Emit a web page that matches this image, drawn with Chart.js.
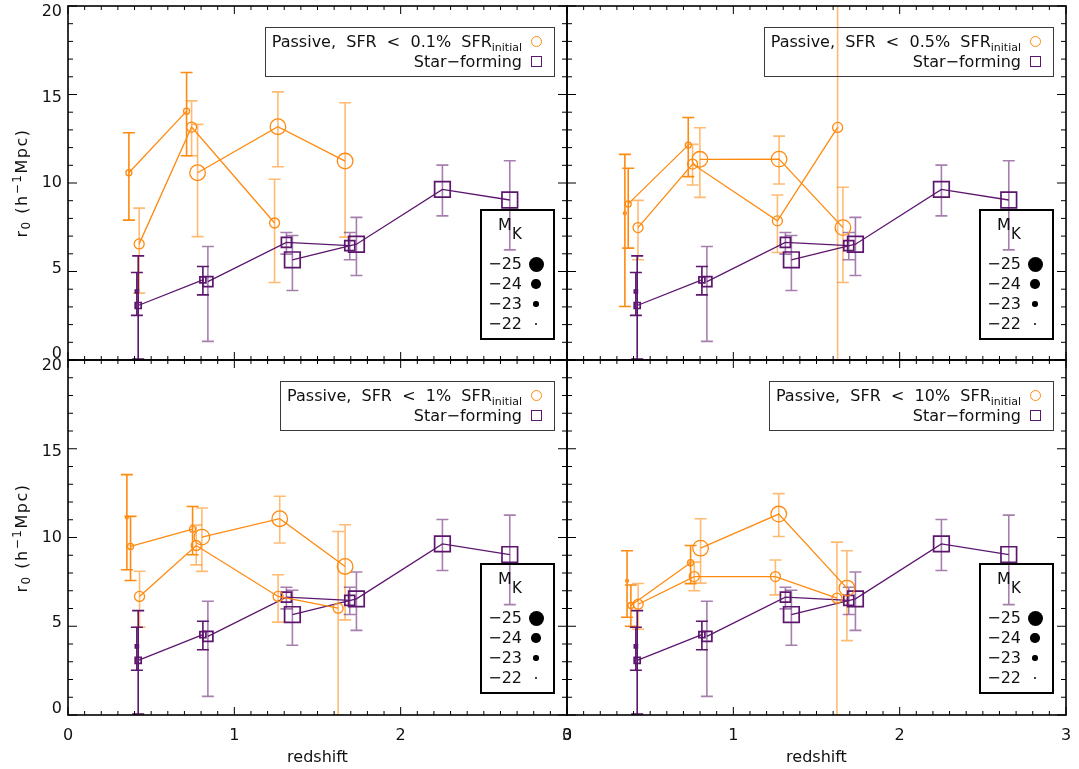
<!DOCTYPE html>
<html>
<head>
<meta charset="utf-8">
<script src="https://cdn.jsdelivr.net/npm/chart.js@4.4.1/dist/chart.umd.min.js"></script>
<style>
html,body{margin:0;padding:0;background:#fff;}
#wrap{position:relative;width:1079px;height:769px;overflow:hidden;font-family:"DejaVu Sans",sans-serif;color:#111;}
canvas{position:absolute;left:0;top:0;}
.leg{position:absolute;box-sizing:border-box;height:50px;border:1.5px solid #3a3a3a;padding:4px 12px 0 6px;font-size:16px;}
.leg .row{height:20px;line-height:20px;text-align:right;white-space:pre;}
.leg sub{font-size:11px;vertical-align:-4px;line-height:0;}
.sym{display:inline-block;box-sizing:border-box;vertical-align:middle;margin-left:9px;position:relative;top:-1px;}
.circ{width:11px;height:11px;border:1.3px solid rgb(255,138,16);border-radius:50%;}
.sq{width:11px;height:11px;border:1.6px solid rgb(92,22,110);}
.mk{position:absolute;box-sizing:border-box;width:75px;height:131px;border:2px solid #000;font-size:16px;}
.mk .t{position:absolute;white-space:pre;line-height:20px;}
.mk .dot{position:absolute;background:#000;border-radius:50%;}
.ytitle{position:absolute;width:200px;height:20px;line-height:20px;text-align:center;font-size:16px;letter-spacing:1.5px;white-space:pre;transform:rotate(-90deg);transform-origin:50% 50%;}
.ytitle sub{font-size:12px;vertical-align:-3px;line-height:0;}
.ytitle sup{font-size:12px;vertical-align:6px;line-height:0;}
</style>
</head>
<body>
<div id="wrap">
<canvas id="c0" width="1079" height="769"></canvas>
<canvas id="c1" width="1079" height="769"></canvas>
<canvas id="c2" width="1079" height="769"></canvas>
<canvas id="c3" width="1079" height="769"></canvas>
</div>
<script>
// ---------- data ----------
const xTickValues = [0, 1, 2, 3];
const yTickValues = [0, 5, 10, 15, 20];
const thresholds = ['0.1%', '0.5%', '1%', '10%'];
const magBins = [-22, -23, -24, -25];
const magLabels = ['\u221225', '\u221224', '\u221223', '\u221222'];

// rows: [redshift, r0, errLow, errHigh]
// Star-forming sample (same in every panel)
const sf_m22 = [[0.414, 3.87, 2.52, 4.94]];
const sf_m23 = [[0.422, 3.08, 0.06, 5.88], [0.811, 4.53, 3.68, 5.28]];
const sf_m24 = [[0.841, 4.43, 1.05, 6.41], [1.313, 6.64, 5.98, 7.20], [1.694, 6.46, 5.66, 7.20]];
const sf_m25 = [[1.349, 5.66, 3.93, 7.03], [1.734, 6.54, 4.77, 8.06], [2.251, 9.64, 8.14, 11.01], [2.656, 9.04, 6.22, 11.26]];

// Passive, SFR < 0.1%
const p01_m23 = [[0.366, 10.58, 7.90, 12.84], [0.713, 14.06, 11.54, 16.24]];
const p01_m24 = [[0.428, 6.56, 3.78, 8.58], [0.743, 13.16, 11.54, 14.64], [1.242, 7.74, 4.38, 10.21]];
const p01_m25 = [[0.779, 10.58, 6.97, 13.31], [1.262, 13.18, 10.92, 15.15], [1.666, 11.24, 6.94, 14.53]];
// Passive, SFR < 0.5%
const p05_m22 = [[0.348, 8.29, 3.02, 11.62]];
const p05_m23 = [[0.368, 8.82, 6.32, 10.83], [0.729, 12.14, 10.36, 13.70]];
const p05_m24 = [[0.427, 7.48, 5.66, 9.02], [0.755, 11.07, 9.89, 12.18], [1.265, 7.86, 6.07, 9.32], [1.627, 13.14, 0.0, 25.0]];
const p05_m25 = [[0.799, 11.34, 9.19, 13.12], [1.275, 11.35, 9.94, 12.65], [1.659, 7.48, 4.38, 9.76]];
// Passive, SFR < 1%
const p1_m22 = [[0.354, 11.13, 8.18, 13.54]];
const p1_m23 = [[0.376, 9.50, 7.58, 11.19], [0.749, 10.47, 9.03, 11.75]];
const p1_m24 = [[0.430, 6.68, 4.95, 8.10], [0.771, 9.55, 8.46, 10.70], [1.263, 6.68, 5.23, 7.90], [1.624, 6.02, 0.0, 10.34]];
const p1_m25 = [[0.805, 10.02, 8.09, 11.66], [1.273, 11.06, 9.69, 12.32], [1.666, 8.37, 5.36, 10.72]];
// Passive, SFR < 10%
const p10_m22 = [[0.361, 7.56, 5.51, 9.25]];
const p10_m23 = [[0.384, 6.17, 5.00, 7.32], [0.743, 8.58, 7.40, 9.55]];
const p10_m24 = [[0.428, 6.24, 4.83, 7.41], [0.765, 7.80, 7.00, 8.61], [1.253, 7.80, 6.77, 8.73], [1.623, 6.58, 0.0, 9.74]];
const p10_m25 = [[0.803, 9.40, 7.43, 11.06], [1.273, 11.32, 10.06, 12.47], [1.683, 7.15, 4.19, 9.25]];

// ---------- styling ----------
const FONT = '"DejaVu Sans", sans-serif';
const ORANGE = 'rgb(255,138,16)';
const PURPLE = 'rgb(92,22,110)';
const ORANGE_ERR_LIGHT = 'rgba(255,138,16,0.58)';
const PURPLE_ERR_LIGHT = 'rgba(92,22,110,0.55)';
const markerR = {'-22': 1.5, '-23': 3.0, '-24': 5.0, '-25': 7.8};

function makeDataset(rows, mag, kind) {
  const r = markerR[String(mag)];
  const col = kind === 'passive' ? ORANGE : PURPLE;
  const light = kind === 'passive' ? ORANGE_ERR_LIGHT : PURPLE_ERR_LIGHT;
  return {
    data: rows.map(d => ({x: d[0], y: d[1]})),
    err: rows.map(d => [d[2], d[3]]),
    errColor: (mag >= -23) ? col : light,
    showLine: true,
    borderColor: col,
    borderWidth: 1.3,
    pointStyle: kind === 'passive' ? 'circle' : 'rect',
    pointRadius: kind === 'passive' ? r : r * Math.SQRT2,
    pointBorderWidth: kind === 'passive' ? 1.3 : 1.7,
    pointBorderColor: col,
    pointBackgroundColor: 'rgba(0,0,0,0)',
    pointHoverRadius: kind === 'passive' ? r : r * Math.SQRT2,
    tension: 0,
    fill: false,
    clip: false
  };
}

const errorBarPlugin = {
  id: 'errbars',
  beforeDatasetsDraw(chart) {
    const {ctx, chartArea: a, scales: {x, y}} = chart;
    ctx.save();
    ctx.beginPath();
    ctx.rect(a.left, a.top, a.right - a.left, a.bottom - a.top);
    ctx.clip();
    ctx.lineWidth = 1.6;
    chart.data.datasets.forEach(ds => {
      ctx.strokeStyle = ds.errColor;
      ds.err.forEach((e, i) => {
        const px = x.getPixelForValue(ds.data[i].x);
        const p1 = y.getPixelForValue(e[0]);
        const p2 = y.getPixelForValue(e[1]);
        ctx.beginPath();
        ctx.moveTo(px, p1); ctx.lineTo(px, p2);
        ctx.moveTo(px - 6, p1); ctx.lineTo(px + 6, p1);
        ctx.moveTo(px - 6, p2); ctx.lineTo(px + 6, p2);
        ctx.stroke();
      });
    });
    ctx.restore();
  }
};

// y tick labels sit slightly inside the ends of the axis, as in the original figure
const labelSqueezePlugin = {
  id: 'squeeze',
  beforeDraw(chart) {
    const s = chart.scales.y;
    if (!s.options.display) return;
    const a = chart.chartArea;
    const c = (a.top + a.bottom) / 2;
    s.getLabelItems(a).forEach(it => {
      if (it._sq) return;
      const t = it.options.translation;
      t[1] = c + (t[1] - c) * 0.966;
      it._sq = true;
    });
  }
};

const framePlugin = {
  id: 'frame',
  afterDatasetsDraw(chart) {
    const {ctx, chartArea: a, scales: {x, y}} = chart;
    ctx.save();
    ctx.strokeStyle = '#000';
    ctx.lineWidth = 1;
    ctx.beginPath();
    for (let k = 0; k <= 30; k++) {
      const px = x.getPixelForValue(k / 10);
      const L = (k % 10 === 0) ? 8 : 4;
      ctx.moveTo(px, a.bottom); ctx.lineTo(px, a.bottom - L);
      ctx.moveTo(px, a.top); ctx.lineTo(px, a.top + L);
    }
    for (let k = 0; k <= 20; k++) {
      const py = y.getPixelForValue(k);
      const L = (k % 5 === 0) ? 9 : 5;
      ctx.moveTo(a.left, py); ctx.lineTo(a.left + L, py);
      ctx.moveTo(a.right, py); ctx.lineTo(a.right - L, py);
    }
    ctx.stroke();
    ctx.lineWidth = 1.6;
    ctx.strokeRect(a.left, a.top, a.right - a.left, a.bottom - a.top);
    ctx.restore();
  }
};

const L = 68, M = 567, R = 1066, T = 6, H = 360, B = 715, W = 1079, HT = 769;
const panels = [
  {id: 'c0', thr: thresholds[0], passive: [[], p01_m23, p01_m24, p01_m25], pad: {left: 0, top: T, right: W - M, bottom: HT - H}, yl: true, xl: false},
  {id: 'c1', thr: thresholds[1], passive: [p05_m22, p05_m23, p05_m24, p05_m25], pad: {left: M, top: T, right: W - R, bottom: HT - H}, yl: false, xl: false},
  {id: 'c2', thr: thresholds[2], passive: [p1_m22, p1_m23, p1_m24, p1_m25], pad: {left: 0, top: H, right: W - M, bottom: 0}, yl: true, xl: true},
  {id: 'c3', thr: thresholds[3], passive: [p10_m22, p10_m23, p10_m24, p10_m25], pad: {left: M, top: H, right: W - R, bottom: 0}, yl: false, xl: true}
];
const sfSeries = [sf_m22, sf_m23, sf_m24, sf_m25];
const wrap = document.getElementById('wrap');

panels.forEach(p => {
  const datasets = [];
  p.passive.forEach((rows, i) => { if (rows.length) datasets.push(makeDataset(rows, magBins[i], 'passive')); });
  sfSeries.forEach((rows, i) => datasets.push(makeDataset(rows, magBins[i], 'sf')));
  new Chart(document.getElementById(p.id), {
    type: 'scatter',
    data: {datasets},
    options: {
      responsive: false,
      animation: false,
      devicePixelRatio: 1,
      events: [],
      layout: {padding: p.pad, autoPadding: false},
      plugins: {legend: {display: false}, tooltip: {enabled: false}},
      scales: {
        x: {
          type: 'linear', min: 0, max: 3, display: p.xl,
          grid: {display: false, drawTicks: false}, border: {display: false},
          afterBuildTicks: s => { s.ticks = xTickValues.map(v => ({value: v})); },
          ticks: {padding: 11, color: '#111', font: {family: FONT, size: 16}, maxRotation: 0, autoSkip: false},
          title: {display: p.xl, text: 'redshift', color: '#111', font: {family: FONT, size: 16}, padding: {top: 0, bottom: 2}},
          afterFit: s => { s.height = p.xl ? HT - B : 0; s.paddingLeft = 0; s.paddingRight = 0; s.paddingTop = 0; s.paddingBottom = 0; }
        },
        y: {
          type: 'linear', min: 0, max: 20, display: p.yl,
          grid: {display: false, drawTicks: false}, border: {display: false},
          afterBuildTicks: s => { s.ticks = yTickValues.map(v => ({value: v})); },
          ticks: {padding: 6, color: '#111', font: {family: FONT, size: 16}, autoSkip: false},
          title: {display: false},
          afterFit: s => { s.width = p.yl ? L : 0; s.paddingTop = 0; s.paddingBottom = 0; s.paddingLeft = 0; s.paddingRight = 0; }
        }
      }
    },
    plugins: [errorBarPlugin, labelSqueezePlugin, framePlugin]
  });

  const panelRight = p.pad.left === 0 ? M : R;
  const panelTop = p.pad.top;
  const panelBottom = HT - p.pad.bottom - (p.xl ? HT - B : 0);

  // y-axis title for left panels
  if (p.yl) {
    const yt = document.createElement('div');
    yt.className = 'ytitle';
    yt.style.left = (22 - 100) + 'px';
    yt.style.top = ((panelTop + panelBottom) / 2 - 10) + 'px';
    yt.innerHTML = 'r<sub>0</sub> (h<sup>\u22121</sup>Mpc)';
    wrap.appendChild(yt);
  }

  // series legend (top right of the panel)
  const leg = document.createElement('div');
  leg.className = 'leg';
  leg.style.right = (W - panelRight + 12) + 'px';
  leg.style.top = (panelTop + 21) + 'px';
  leg.innerHTML = '<div class="row">Passive,  SFR  &lt;  ' + p.thr + '  SFR<sub>initial</sub><span class="sym circ"></span></div>' +
                  '<div class="row">Star\u2212forming<span class="sym sq"></span></div>';
  wrap.appendChild(leg);

  // magnitude legend box
  const mk = document.createElement('div');
  mk.className = 'mk';
  mk.style.left = (panelRight - 87) + 'px';
  mk.style.top = (panelTop + 203) + 'px';
  let html = '<div class="t" style="left:16px;top:4px;">M</div><div class="t" style="left:30px;top:13px;font-size:15px;">K</div>';
  const dotR = [7.5, 4.7, 2.7, 1.2];
  magLabels.forEach((lab, i) => {
    const cy = 53 + i * 20;
    html += '<div class="t" style="right:31px;top:' + (cy - 10) + 'px;">' + lab + '</div>';
    const r = dotR[i];
    html += '<div class="dot" style="left:' + (54 - r) + 'px;top:' + (cy - r) + 'px;width:' + (2 * r) + 'px;height:' + (2 * r) + 'px;"></div>';
  });
  mk.innerHTML = html;
  wrap.appendChild(mk);
});
</script>
</body>
</html>
